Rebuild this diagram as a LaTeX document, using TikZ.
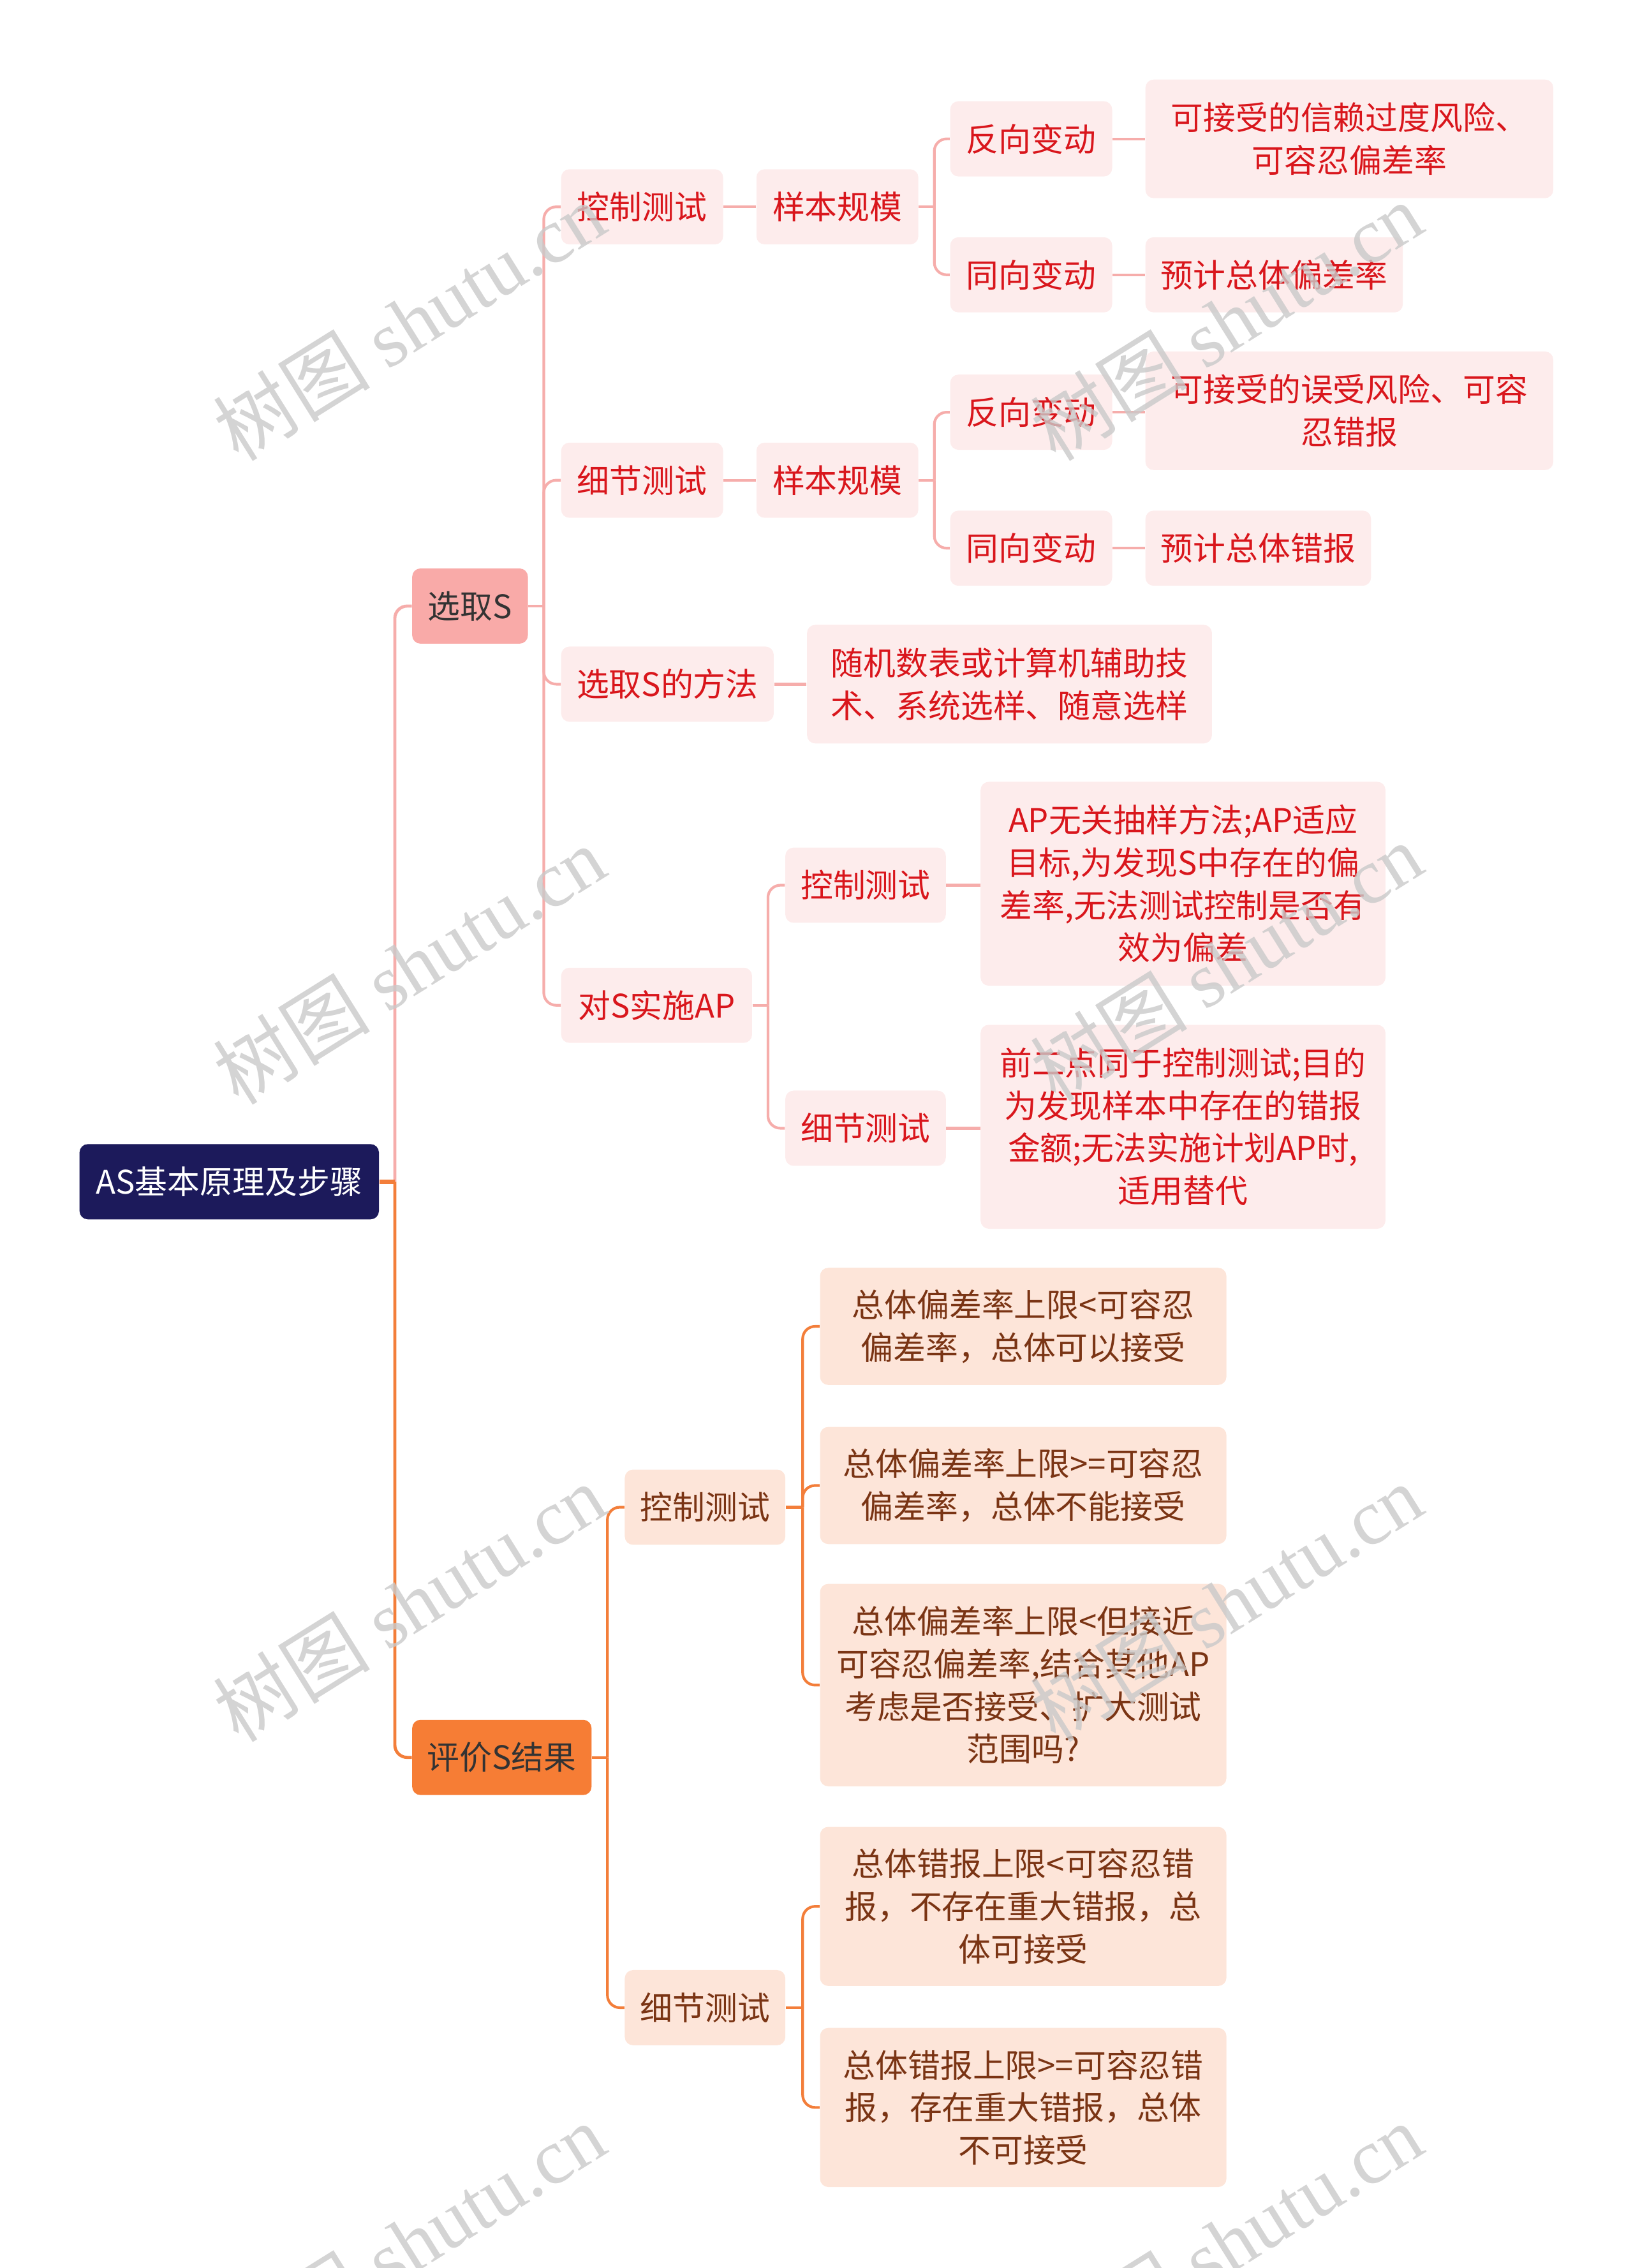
\documentclass[tikz,border=0pt]{standalone}
\usepackage{fontspec}
\setmainfont{Noto Sans CJK SC}
\newfontfamily\wmserif{Liberation Serif}
\definecolor{rootfill}{HTML}{1C1A5B}
\definecolor{pinkmain}{HTML}{F9AAA8}
\definecolor{pinkline}{HTML}{F6ADAB}
\definecolor{pinklight}{HTML}{FDECEC}
\definecolor{redtext}{HTML}{D9161C}
\definecolor{orangemain}{HTML}{F67D35}
\definecolor{orangeline}{HTML}{F37E3A}
\definecolor{peach}{HTML}{FDE5D9}
\definecolor{browntext}{HTML}{7A3414}
\definecolor{darktext}{HTML}{333333}
\definecolor{wmgray}{HTML}{C9C9C9}
\begin{document}
\begin{tikzpicture}[x=0.7pt,y=-0.7pt,
  base/.style={rectangle, rounded corners=4pt, inner sep=0pt, align=center,
    font=\fontsize{15.7}{20.6}\selectfont},
  sz/.style 2 args={minimum width=#1*0.7pt, minimum height=#2*0.7pt},
  rootbox/.style={base, fill=rootfill, text=white},
  pinkbox/.style={base, fill=pinkmain, text=darktext},
  orangebox/.style={base, fill=orangemain, text=darktext},
  pchild/.style={base, fill=pinklight, text=redtext},
  ochild/.style={base, fill=peach, text=browntext},
  pl/.style={draw=pinkline, line width=1.3pt},
  ol/.style={draw=orangeline, line width=1.3pt},
  wm/.style={text=wmgray, opacity=0.8, rotate=32, inner sep=0pt,
    font=\fontsize{38}{40}\selectfont}
]
\useasboundingbox (0,0) rectangle (1129,1568);
\clip (0,0) rectangle (1129,1568);

% ---------- nodes ----------
\node[rootbox, sz={207}{52}] (root) at (158.5,817) {AS基本原理及步骤};
\node[pinkbox, sz={80}{52}] (xs) at (325,419) {选取S};
\node[orangebox, sz={124}{52}] (pj) at (347,1215) {评价S结果};

% pink branch level 2
\node[pchild, sz={112}{52}] (a1) at (444,143) {控制测试};
\node[pchild, sz={112}{52}] (a2) at (444,332) {细节测试};
\node[pchild, sz={147}{52}] (a3) at (461.5,473) {选取S的方法};
\node[pchild, sz={132}{52}] (a4) at (454,695) {对S实施AP};

\node[pchild, sz={112}{52}] (a1s) at (579,143) {样本规模};
\node[pchild, sz={112}{52}] (a2s) at (579,332) {样本规模};

\node[pchild, sz={112}{52}] (a1r) at (713,96) {反向变动};
\node[pchild, sz={112}{52}] (a1t) at (713,190) {同向变动};
\node[pchild, sz={112}{52}] (a2r) at (713,285) {反向变动};
\node[pchild, sz={112}{52}] (a2t) at (713,379) {同向变动};

\node[pchild, sz={282}{82}] (a1rl) at (933,96) {可接受的信赖过度风险、\\可容忍偏差率};
\node[pchild, sz={178}{52}] (a1tl) at (881,190) {预计总体偏差率};
\node[pchild, sz={282}{82}] (a2rl) at (933,284) {可接受的误受风险、可容\\忍错报};
\node[pchild, sz={156}{52}] (a2tl) at (870,379) {预计总体错报};

\node[pchild, sz={280}{82}] (a3l) at (698,473) {随机数表或计算机辅助技\\术、系统选样、随意选样};

\node[pchild, sz={111}{52}] (a4c) at (598.5,612) {控制测试};
\node[pchild, sz={111}{52}] (a4d) at (598.5,780) {细节测试};
\node[pchild, sz={280}{141}] (a4cl) at (818,611) {AP无关抽样方法;AP适应\\目标,为发现S中存在的偏\\差率,无法测试控制是否有\\效为偏差};
\node[pchild, sz={280}{141}] (a4dl) at (818,779) {前二点同于控制测试;目的\\为发现样本中存在的错报\\金额;无法实施计划AP时,\\适用替代};

% orange branch
\node[ochild, sz={111}{52}] (b1) at (487.5,1042) {控制测试};
\node[ochild, sz={111}{52}] (b2) at (487.5,1388) {细节测试};
\node[ochild, sz={281}{81}] (b1a) at (707.5,917) {总体偏差率上限<可容忍\\偏差率，总体可以接受};
\node[ochild, sz={281}{81}] (b1b) at (707.5,1027) {总体偏差率上限>=可容忍\\偏差率，总体不能接受};
\node[ochild, sz={281}{140}] (b1c) at (707.5,1165) {总体偏差率上限<但接近\\可容忍偏差率,结合其他AP\\考虑是否接受、扩大测试\\范围吗?};
\node[ochild, sz={281}{110}] (b2a) at (707.5,1318) {总体错报上限<可容忍错\\报，不存在重大错报，总\\体可接受};
\node[ochild, sz={281}{110}] (b2b) at (707.5,1457) {总体错报上限>=可容忍错\\报，存在重大错报，总体\\不可接受};

% ---------- trunk points ----------
\coordinate (t0) at (273,817);
\coordinate (tA) at (376,419);
\coordinate (tB) at (646,143);
\coordinate (tC) at (646,332);
\coordinate (tD) at (531,695);
\coordinate (tE) at (420,1215);
\coordinate (tF) at (555,1042);
\coordinate (tG) at (555,1388);

% ---------- connectors ----------
\begin{scope}[rounded corners=6pt]
% root
\draw[pl, line width=1.5pt] (t0) |- (xs.west);
\draw[ol, line width=1.5pt] (t0) |- (pj.west);
\draw[ol, line width=2pt, rounded corners=0pt] (root.east) -- (t0);
% selection branch
\draw[pl] (xs.east) -- (tA);
\draw[pl] (tA) |- (a1.west);
\draw[pl] (tA) |- (a2.west);
\draw[pl] (tA) |- (a3.west);
\draw[pl] (tA) |- (a4.west);
\draw[pl] (a1.east) -- (a1s.west);
\draw[pl] (a2.east) -- (a2s.west);
\draw[pl] (a1s.east) -- (tB);
\draw[pl] (tB) |- (a1r.west);
\draw[pl] (tB) |- (a1t.west);
\draw[pl] (a2s.east) -- (tC);
\draw[pl] (tC) |- (a2r.west);
\draw[pl] (tC) |- (a2t.west);
\draw[pl] (a1r.east) -- (a1rl.west |- a1r.east);
\draw[pl] (a1t.east) -- (a1tl.west);
\draw[pl] (a2r.east) -- (a2rl.west |- a2r.east);
\draw[pl] (a2t.east) -- (a2tl.west);
\draw[pl] (a3.east) -- (a3l.west);
\draw[pl] (a4.east) -- (tD);
\draw[pl] (tD) |- (a4c.west);
\draw[pl] (tD) |- (a4d.west);
\draw[pl] (a4c.east) -- (a4cl.west |- a4c.east);
\draw[pl] (a4d.east) -- (a4dl.west |- a4d.east);
% evaluation branch
\draw[ol] (pj.east) -- (tE);
\draw[ol] (tE) |- (b1.west);
\draw[ol] (tE) |- (b2.west);
\draw[ol] (b1.east) -- (tF);
\draw[ol] (tF) |- (b1a.west);
\draw[ol] (tF) |- (b1b.west);
\draw[ol] (tF) |- (b1c.west);
\draw[ol] (b2.east) -- (tG);
\draw[ol] (tG) |- (b2a.west);
\draw[ol] (tG) |- (b2b.west);
\end{scope}

% ---------- watermarks ----------
\node[wm] (wm1) at (283,222) {树图 {\wmserif shutu.cn}};
\node[wm] (wm2) at (283,667) {树图 {\wmserif shutu.cn}};
\node[wm] (wm3) at (283,1108) {树图 {\wmserif shutu.cn}};
\node[wm] (wm4) at (283,1550) {树图 {\wmserif shutu.cn}};
\node[wm] (wm5) at (848,222) {树图 {\wmserif shutu.cn}};
\node[wm] (wm6) at (848,665) {树图 {\wmserif shutu.cn}};
\node[wm] (wm7) at (848,1108) {树图 {\wmserif shutu.cn}};
\node[wm] (wm8) at (848,1550) {树图 {\wmserif shutu.cn}};
\end{tikzpicture}
\end{document}
